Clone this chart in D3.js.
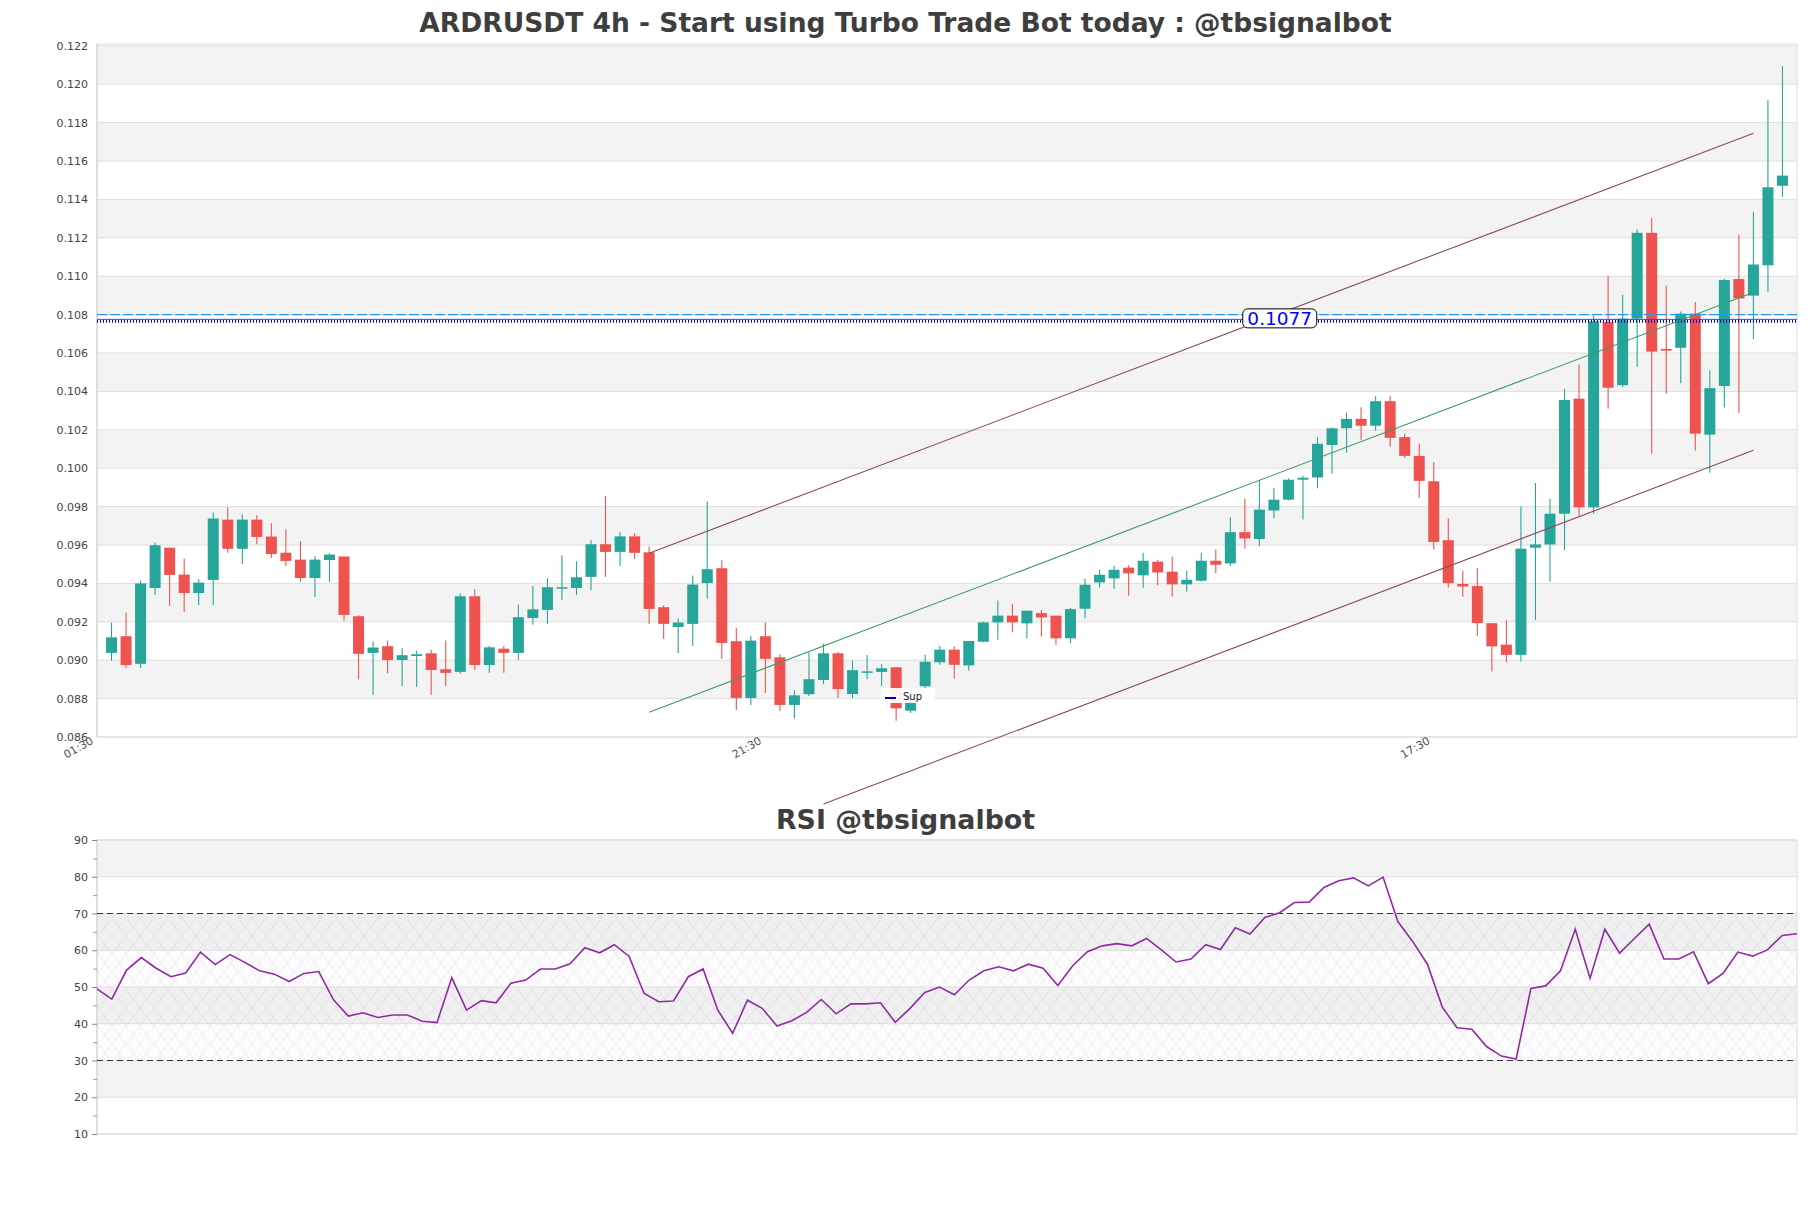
<!DOCTYPE html>
<html><head><meta charset="utf-8">
<script src="https://cdn.jsdelivr.net/npm/d3@7"></script>
<style>body{margin:0;background:#fff}svg{display:block}text{font-family:"DejaVu Sans",sans-serif}</style>
</head><body><svg id="c" width="1811" height="1208"></svg>
<script>
// ---------- DATA ----------
const opens = [0.09038,0.09125,0.08981,0.09376,0.09586,0.09446,0.09350,0.09418,0.09732,0.09580,
0.09732,0.09644,0.09560,0.09524,0.09428,0.09522,0.09540,0.09229,0.09038,0.09073,
0.09001,0.09022,0.09036,0.08953,0.08939,0.09333,0.08975,0.09060,0.09038,0.09220,
0.09262,0.09375,0.09376,0.09434,0.09604,0.09564,0.09645,0.09562,0.09276,0.09173,
0.09189,0.09402,0.09479,0.09099,0.08803,0.09125,0.09015,0.08767,0.08823,0.08897,
0.09036,0.08824,0.08939,0.08939,0.08963,0.08737,0.08864,0.08989,0.09055,0.08973,
0.09096,0.09197,0.09232,0.09192,0.09245,0.09232,0.09114,0.09268,0.09405,0.09426,
0.09482,0.09442,0.09513,0.09461,0.09395,0.09414,0.09518,0.09504,0.09667,0.09631,
0.09780,0.09836,0.09940,0.09952,0.10121,0.10208,0.10257,0.10221,0.10349,0.10162,
0.10064,0.09932,0.09625,0.09397,0.09386,0.09193,0.09081,0.09028,0.09586,0.09603,
0.09763,0.10362,0.09796,0.10761,0.10432,0.10779,0.11226,0.10621,0.10627,0.10805,
0.10175,0.10428,0.10985,0.10899,0.11057,0.11471];
const highs = [0.09196,0.09248,0.09415,0.09613,0.09586,0.09529,0.09422,0.09769,0.09797,0.09760,
0.09755,0.09713,0.09682,0.09619,0.09543,0.09557,0.09540,0.09234,0.09097,0.09102,
0.09062,0.09050,0.09055,0.09102,0.09347,0.09370,0.09074,0.09074,0.09290,0.09387,
0.09427,0.09547,0.09515,0.09625,0.09856,0.09666,0.09661,0.09592,0.09286,0.09217,
0.09441,0.09826,0.09520,0.09168,0.09125,0.09196,0.09031,0.08843,0.09041,0.09086,
0.09043,0.08998,0.09027,0.08979,0.08963,0.08825,0.09029,0.09075,0.09072,0.09100,
0.09200,0.09311,0.09294,0.09258,0.09260,0.09232,0.09272,0.09424,0.09471,0.09492,
0.09494,0.09560,0.09523,0.09539,0.09466,0.09560,0.09575,0.09744,0.09841,0.09940,
0.09898,0.09947,0.09961,0.10162,0.10212,0.10290,0.10318,0.10375,0.10375,0.10180,
0.10129,0.10031,0.09739,0.09467,0.09482,0.09193,0.09208,0.09800,0.09923,0.09840,
0.10414,0.10542,0.10794,0.11002,0.10904,0.11243,0.11303,0.10952,0.10816,0.10866,
0.10509,0.10987,0.11217,0.11336,0.11917,0.12094];
const lows = [0.08996,0.08960,0.08960,0.09340,0.09283,0.09251,0.09288,0.09288,0.09560,0.09501,
0.09604,0.09533,0.09491,0.09408,0.09330,0.09408,0.09205,0.08900,0.08819,0.08932,
0.08866,0.08861,0.08819,0.08866,0.08929,0.08949,0.08934,0.08934,0.09001,0.09184,
0.09189,0.09314,0.09340,0.09366,0.09434,0.09491,0.09527,0.09189,0.09111,0.09038,
0.09074,0.09321,0.09007,0.08741,0.08767,0.08829,0.08736,0.08696,0.08814,0.08875,
0.08802,0.08803,0.08901,0.08866,0.08685,0.08725,0.08855,0.08976,0.08903,0.08947,
0.09093,0.09107,0.09145,0.09114,0.09124,0.09081,0.09089,0.09218,0.09379,0.09372,
0.09336,0.09377,0.09390,0.09332,0.09357,0.09410,0.09454,0.09489,0.09582,0.09593,
0.09739,0.09832,0.09733,0.09895,0.09971,0.10081,0.10147,0.10195,0.10112,0.10055,
0.09846,0.09577,0.09379,0.09331,0.09127,0.08941,0.08989,0.08993,0.09210,0.09408,
0.09572,0.09752,0.09763,0.10309,0.10421,0.10529,0.10077,0.10388,0.10443,0.10092,
0.09976,0.10316,0.10289,0.10673,0.10919,0.11414];
const closes = [0.09119,0.08975,0.09400,0.09599,0.09444,0.09350,0.09404,0.09738,0.09580,0.09732,
0.09642,0.09553,0.09517,0.09428,0.09524,0.09550,0.09236,0.09033,0.09066,0.09001,
0.09026,0.09031,0.08949,0.08934,0.09333,0.08975,0.09067,0.09038,0.09224,0.09265,
0.09380,0.09380,0.09432,0.09604,0.09564,0.09645,0.09559,0.09267,0.09189,0.09196,
0.09394,0.09474,0.09090,0.08803,0.09102,0.09007,0.08767,0.08817,0.08901,0.09036,
0.08850,0.08948,0.08942,0.08958,0.08749,0.08810,0.08992,0.09055,0.08976,0.09100,
0.09197,0.09232,0.09197,0.09258,0.09223,0.09114,0.09266,0.09393,0.09445,0.09471,
0.09452,0.09518,0.09457,0.09395,0.09419,0.09518,0.09497,0.09667,0.09634,0.09784,
0.09836,0.09940,0.09950,0.10127,0.10208,0.10257,0.10221,0.10349,0.10158,0.10064,
0.09934,0.09616,0.09401,0.09384,0.09193,0.09072,0.09028,0.09581,0.09603,0.09763,
0.10355,0.09796,0.10765,0.10419,0.10779,0.11226,0.10607,0.10612,0.10805,0.10180,
0.10417,0.10980,0.10884,0.11061,0.11463,0.11524];
const rsiValues = [49.5,46.7,54.6,58.0,55.1,52.8,53.8,59.5,56.1,58.8,
56.7,54.4,53.5,51.5,53.7,54.2,46.5,42.1,43.0,41.7,
42.4,42.4,40.7,40.3,52.5,43.7,46.3,45.7,51.0,51.9,
54.9,54.9,56.3,60.7,59.3,61.5,58.3,48.3,46.0,46.2,
52.8,54.9,43.7,37.4,46.4,44.2,39.4,40.8,43.1,46.6,
42.7,45.4,45.4,45.7,40.4,44.2,48.5,50.0,47.9,51.9,
54.4,55.5,54.4,56.2,55.1,50.4,55.8,59.6,61.2,61.8,
61.2,63.2,60.1,56.8,57.6,61.5,60.2,66.1,64.4,68.9,
70.2,73.0,73.1,77.1,78.9,79.7,77.5,79.9,67.8,62.4,
56.2,44.6,38.9,38.5,33.8,31.2,30.4,49.6,50.3,54.4,
65.7,52.4,65.7,59.2,63.2,67.1,57.6,57.6,59.6,50.9,
53.7,59.5,58.4,60.1,64.0,64.5];
const priceTicks = d3.range(19).map(k => 0.086 + k * 0.002);
const rsiTicks = [10,20,30,40,50,60,70,80,90];
const timeLabels = ["01:30","21:30","17:30"];
const timeLabelSlots = [0, 46, 92];
const channelUpper = [[38, 0.09557],[114, 0.11744]];
const channelMid   = [[38, 0.08729],[114, 0.10915]];
const channelLower = [[50, 0.08251],[114, 0.10093]];
const resistanceLevel = 0.108;
const supportLevel = 0.1077;
const supportLabelSlot = 81.4;
const titleMain = "ARDRUSDT 4h - Start using Turbo Trade Bot today : @tbsignalbot";
const titleRsi = "RSI @tbsignalbot";

// ---------- LAYOUT ----------
const svg = d3.select("#c");
svg.append("rect").attr("width",1811).attr("height",1208).attr("fill","#fff");
const L = 97, R = 1797, T = 44, B = 737;
const RT = 840, RB = 1134;
const n = opens.length;
const x = d3.scaleLinear().domain([0, n + 1]).range([L, R]);
const y = d3.scaleLinear().domain([0.086, 0.086 + (B - T) / 19200]).range([B, T]);
const xr = d3.scaleLinear().domain([0, rsiValues.length - 1]).range([L, R]);
const yr = d3.scaleLinear().domain([10, 90]).range([RB, RT]);
const GREEN = "#26a69a", RED = "#ef5350";

// titles
svg.append("text").attr("x",905.5).attr("y",32).attr("text-anchor","middle")
  .attr("font-size",26.5).attr("font-weight","bold").attr("fill","#3e3e3e").text(titleMain);
svg.append("text").attr("x",905.5).attr("y",829).attr("text-anchor","middle")
  .attr("font-size",26.8).attr("font-weight","bold").attr("fill","#3e3e3e").text(titleRsi);

// ---------- MAIN PANEL ----------
const g = svg.append("g");
priceTicks.slice(0,-1).forEach((t,k) => {
  if (k % 2 === 1) g.append("rect").attr("x",L).attr("width",R-L)
    .attr("y",y(t+0.002)).attr("height",y(t)-y(t+0.002)).attr("fill","#f3f3f3");
});
g.selectAll("line.grid").data(priceTicks).join("line").attr("class","grid")
  .attr("x1",L).attr("x2",R).attr("y1",d=>y(d)).attr("y2",d=>y(d))
  .attr("stroke","#dedede").attr("stroke-width",1);
g.append("rect").attr("x",L).attr("y",T).attr("width",R-L).attr("height",B-T)
  .attr("fill","none").attr("stroke","#dcdcdc");
g.append("line").attr("x1",L).attr("x2",L).attr("y1",T).attr("y2",B).attr("stroke","#cfcfcf");

const yAxis = d3.axisLeft(y).tickValues(priceTicks).tickFormat(d3.format(".3f")).tickSize(0).tickPadding(9);
const ya = svg.append("g").attr("transform",`translate(${L},0)`).call(yAxis);
ya.select(".domain").remove();
ya.selectAll("text").attr("font-size",11).attr("fill","#444").attr("font-family","DejaVu Sans");

// x labels
timeLabels.forEach((lab,k) => {
  svg.append("text").attr("transform",`translate(${x(timeLabelSlots[k])-3},743) rotate(-30)`)
    .attr("text-anchor","end").attr("font-size",11).attr("fill","#555").text(lab);
});

// candles
const cg = g.append("g");
d3.range(n).forEach(i => {
  const up = closes[i] >= opens[i];
  const col = up ? GREEN : RED;
  const cx = x(i + 1);
  cg.append("line").attr("x1",cx).attr("x2",cx).attr("y1",y(highs[i])).attr("y2",y(lows[i]))
    .attr("stroke",col).attr("stroke-width",1.1);
  const top = y(Math.max(opens[i],closes[i])), bot = y(Math.min(opens[i],closes[i]));
  cg.append("rect").attr("x",cx-5.5).attr("width",11).attr("y",top).attr("height",Math.max(1.5,bot-top))
    .attr("fill",col);
});

// level lines
g.append("line").attr("x1",L).attr("x2",R).attr("y1",y(resistanceLevel)).attr("y2",y(resistanceLevel))
  .attr("stroke","#2196f3").attr("stroke-width",1.2).attr("stroke-dasharray","10,3");
g.append("line").attr("x1",L).attr("x2",R).attr("y1",y(supportLevel)-1).attr("y2",y(supportLevel)-1)
  .attr("stroke","#3a3aff").attr("stroke-width",1);
g.append("line").attr("x1",L).attr("x2",R).attr("y1",y(supportLevel)+1).attr("y2",y(supportLevel)+1)
  .attr("stroke","#0000c0").attr("stroke-width",2.6).attr("stroke-dasharray","1,2");

// channel lines
const lineGen = d3.line().x(d=>x(d[0])).y(d=>y(d[1]));
[[channelUpper,"#8b4a62"],[channelMid,"#3a9d5d"],[channelLower,"#8b4a62"]].forEach(([d,c]) => {
  g.append("path").attr("d",lineGen(d)).attr("fill","none").attr("stroke",c).attr("stroke-width",1.1);
});

// legend "Sup"
const lg = g.append("g");
lg.append("rect").attr("x",881).attr("y",688).attr("width",54).attr("height",15).attr("fill","#fff").attr("opacity",0.92);
lg.append("line").attr("x1",885).attr("x2",896).attr("y1",698).attr("y2",698).attr("stroke","#00008b").attr("stroke-width",2);
lg.append("text").attr("x",903).attr("y",700).attr("font-size",10).attr("fill","#222").text("Sup");

// support label
const lx = x(supportLabelSlot), ly = y(supportLevel) - 2;
g.append("rect").attr("x",lx-37).attr("y",ly-9.5).attr("width",74).attr("height",19).attr("rx",5)
  .attr("fill","#fff").attr("stroke","#000").attr("stroke-width",1);
g.append("text").attr("x",lx).attr("y",ly+6.5).attr("text-anchor","middle").attr("font-size",18.5)
  .attr("fill","#0000ff").text(supportLevel.toFixed(4));

// ---------- RSI PANEL ----------
const defs = svg.append("defs");
const pat = defs.append("pattern").attr("id","hatch").attr("patternUnits","userSpaceOnUse")
  .attr("width",14).attr("height",18);
pat.append("path").attr("d","M0,0 L14,18 M14,0 L0,18").attr("stroke","rgba(165,140,185,0.25)").attr("stroke-width",0.6);

const rg = svg.append("g");
rsiTicks.slice(0,-1).forEach((t,k) => {
  if (k % 2 === 1) rg.append("rect").attr("x",L).attr("width",R-L)
    .attr("y",yr(t+10)).attr("height",yr(t)-yr(t+10)).attr("fill","#f3f3f3");
});
rg.append("rect").attr("x",L).attr("width",R-L).attr("y",yr(70)).attr("height",yr(30)-yr(70))
  .attr("fill","rgba(190,170,210,0.04)");
rg.append("rect").attr("x",L).attr("width",R-L).attr("y",yr(70)).attr("height",yr(30)-yr(70))
  .attr("fill","url(#hatch)");
rg.selectAll("line.grid").data(rsiTicks).join("line").attr("class","grid")
  .attr("x1",L).attr("x2",R).attr("y1",d=>yr(d)).attr("y2",d=>yr(d))
  .attr("stroke","#dedede");
rg.append("rect").attr("x",L).attr("y",RT).attr("width",R-L).attr("height",RB-RT)
  .attr("fill","none").attr("stroke","#dcdcdc");
rg.append("line").attr("x1",L).attr("x2",L).attr("y1",RT).attr("y2",RB).attr("stroke","#cfcfcf");
[70,30].forEach(v => rg.append("line").attr("x1",L).attr("x2",R).attr("y1",yr(v)).attr("y2",yr(v))
  .attr("stroke","#333").attr("stroke-width",1.1).attr("stroke-dasharray","6,4"));

const ra = svg.append("g").attr("transform",`translate(${L},0)`)
  .call(d3.axisLeft(yr).tickValues(rsiTicks).tickFormat(d3.format("d")).tickSize(5).tickPadding(4));
ra.select(".domain").remove();
ra.selectAll("line").attr("stroke","#888");
ra.selectAll("text").attr("font-size",11).attr("fill","#444").attr("font-family","DejaVu Sans");
const minor = svg.append("g").attr("transform",`translate(${L},0)`)
  .call(d3.axisLeft(yr).tickValues(d3.range(15,90,10)).tickFormat("").tickSize(4));
minor.select(".domain").remove();
minor.selectAll("line").attr("stroke","#999");

rg.append("path").datum(rsiValues)
  .attr("d", d3.line().x((d,i)=>xr(i)).y(d=>yr(d)))
  .attr("fill","none").attr("stroke","#8e2ca0").attr("stroke-width",1.6);
</script></body></html>
